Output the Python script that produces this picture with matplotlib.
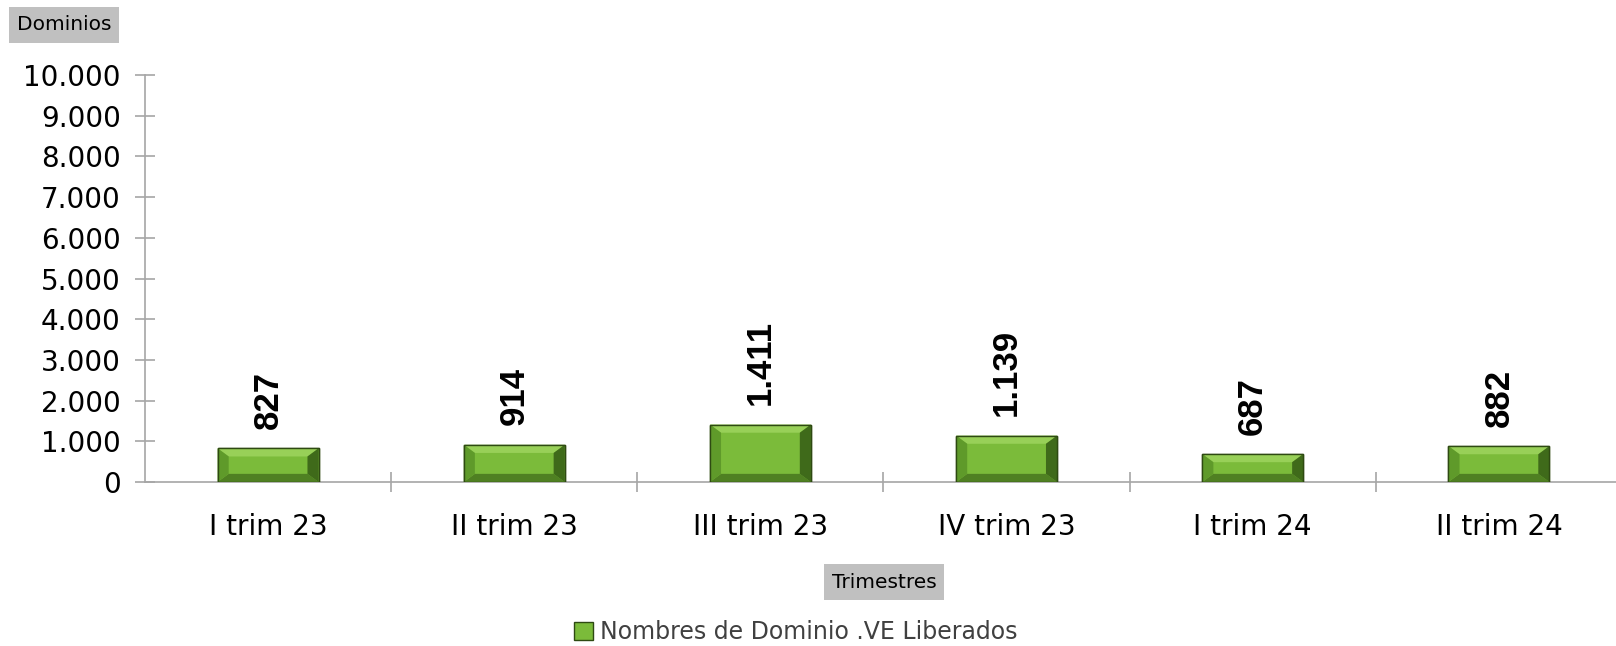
import matplotlib.pyplot as plt
from matplotlib.patches import Patch
from matplotlib.ticker import FuncFormatter, FixedLocator

# datos
trimestres = ["I trim 23", "II trim 23", "III trim 23", "IV trim 23", "I trim 24", "II trim 24"]
dominios = [827, 914, 1411, 1139, 687, 882]
etiquetas = ["827", "914", "1.411", "1.139", "687", "882"]
serie = "Nombres de Dominio .VE Liberados"

verde = "#7bbb3a"
borde = "#2e4a12"
gris = "#a6a6a6"
fuente = "DejaVu Sans"

fig = plt.figure(figsize=(16.16, 6.46), dpi=100)
ax = fig.add_axes([145 / 1616, (646 - 482) / 646, 1477 / 1616, 407 / 646])

x = list(range(len(trimestres)))
ancho = 0.41
barras = ax.bar(x, dominios, width=ancho, color=verde, edgecolor=borde, linewidth=1.0, zorder=3)

# bisel de cada barra (a partir de la geometria de la barra)
dx, dy = 0.045, 200
for b in barras:
    x0, x1 = b.get_x(), b.get_x() + b.get_width()
    y0, y1 = 0, b.get_height()
    ax.fill([x0, x1, x1 - dx, x0 + dx], [y1, y1, y1 - dy, y1 - dy], color="#98d058", lw=0, zorder=4)
    ax.fill([x0, x1, x1 - dx, x0 + dx], [y0, y0, y0 + dy, y0 + dy], color="#4f8022", lw=0, zorder=4)
    ax.fill([x0, x0, x0 + dx, x0 + dx], [y0, y1, y1 - dy, y0 + dy], color="#5f9a2a", lw=0, zorder=4)
    ax.fill([x1, x1, x1 - dx, x1 - dx], [y0, y1, y1 - dy, y0 + dy], color="#3f6a1a", lw=0, zorder=4)
    ax.fill([x0, x1, x1, x0], [y0, y0, y1, y1], fill=False, edgecolor=borde, lw=1.0, zorder=5)

for xi, v, t in zip(x, dominios, etiquetas):
    ax.annotate(t, (xi, v), xytext=(0, 14), textcoords="offset points",
                rotation=90, ha="center", va="bottom", fontsize=25,
                fontweight="bold", family="Liberation Sans", zorder=5)

ax.set_xlim(-0.5, len(trimestres) - 0.5)
ax.set_ylim(0, 10000)
ax.set_yticks(range(0, 10001, 1000))
ax.yaxis.set_major_formatter(FuncFormatter(lambda v, p: f"{int(v):,}".replace(",", ".")))

ax.set_xticks(x)
ax.set_xticklabels(trimestres)
ax.xaxis.set_minor_locator(FixedLocator([i + 0.5 for i in x]))
ax.tick_params(axis="x", which="major", length=0, pad=22, labelsize=20)
ax.tick_params(axis="x", which="minor", direction="inout", length=15, width=1.2, color=gris)
ax.tick_params(axis="y", direction="inout", length=15, width=1.2, color=gris,
               labelsize=20, pad=10)
for lab in ax.get_xticklabels() + ax.get_yticklabels():
    lab.set_family(fuente)

for s in ["top", "right"]:
    ax.spines[s].set_visible(False)
ax.spines["left"].set_color(gris)
ax.spines["bottom"].set_color(gris)
ax.spines["left"].set_linewidth(1.2)
ax.spines["bottom"].set_linewidth(1.2)

caja = dict(boxstyle="square,pad=0.4", facecolor="#c0c0c0", edgecolor="none")
fig.text(64 / 1616, 1 - 25 / 646, "Dominios", ha="center", va="center",
         fontsize=14.5, family=fuente, bbox=caja)
fig.text(884 / 1616, 1 - 582 / 646, "Trimestres", ha="center", va="center",
         fontsize=14.5, family=fuente, bbox=caja)

fig.legend(handles=[Patch(facecolor=verde, edgecolor=borde, label=serie)],
           loc="center", bbox_to_anchor=(796 / 1616, 1 - 632 / 646), frameon=False,
           prop={"family": fuente, "size": 17}, handlelength=0.8, handleheight=0.8,
           handletextpad=0.3, labelcolor="#404040")

fig.savefig("out.png", dpi=100)
